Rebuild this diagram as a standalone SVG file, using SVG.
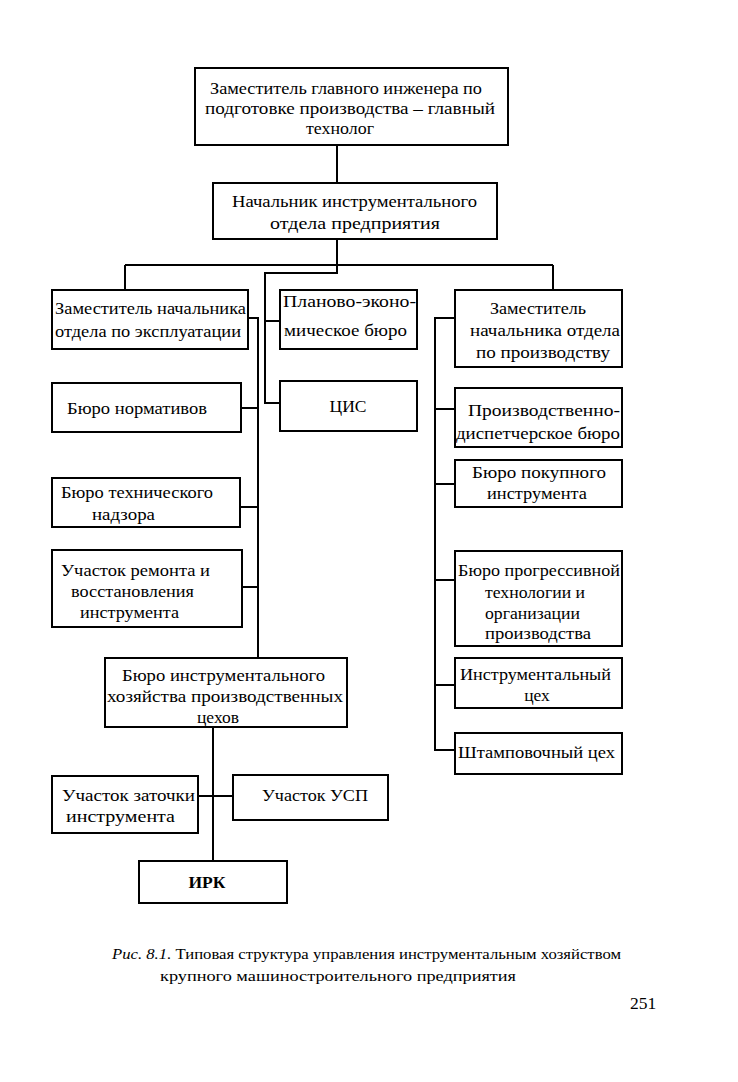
<svg xmlns="http://www.w3.org/2000/svg" width="738" height="1082" viewBox="0 0 738 1082">
<style>
.box{fill:#fff;stroke:#000;stroke-width:2}
.t{font-family:"Liberation Serif",serif;font-size:17.5px;fill:#000}
.m{text-anchor:middle}
.c{fill:none;stroke:#000;stroke-width:2}
.cap{font-family:"Liberation Serif",serif;font-size:14.5px;fill:#000}
</style>
<rect width="738" height="1082" fill="#fff"/>
<g id="connectors">
<path class="c" d="M337 145V183M337 239V265M125 265H553M125 265V290M553 265V290"/>
<path class="c" d="M337 265V273H265V403H280M265 321H280"/>
<path class="c" d="M248 318H258V658M241 408H258M240 507H258M242 587H258"/>
<path class="c" d="M455 318H435V750H455M435 409H455M435 484H455M435 580H455M435 685H455"/>
<path class="c" d="M213 727V861M198 796H233"/>
</g>
<g id="n1"><rect class="box" x="195" y="68" width="313" height="77"/>
<text class="t" x="210" y="94" textLength="272" lengthAdjust="spacingAndGlyphs">Заместитель главного инженера по</text>
<text class="t" x="205" y="114" textLength="290" lengthAdjust="spacingAndGlyphs">подготовке производства  – главный</text>
<text class="t" x="306" y="134" textLength="68" lengthAdjust="spacingAndGlyphs">технолог</text></g>
<g id="n2"><rect class="box" x="213" y="183" width="284" height="56"/>
<text class="t" x="232" y="207" textLength="245" lengthAdjust="spacingAndGlyphs">Начальник инструментального</text>
<text class="t" x="270" y="229" textLength="170" lengthAdjust="spacingAndGlyphs">отдела предприятия</text></g>
<g id="n3"><rect class="box" x="52" y="290" width="196" height="59"/>
<text class="t" x="55" y="314" textLength="191" lengthAdjust="spacingAndGlyphs">Заместитель начальника</text>
<text class="t" x="55" y="337" textLength="186" lengthAdjust="spacingAndGlyphs">отдела по эксплуатации</text></g>
<g id="n4"><rect class="box" x="280" y="290" width="137" height="59"/>
<text class="t" x="283" y="307" textLength="133" lengthAdjust="spacingAndGlyphs">Планово-эконо-</text>
<text class="t" x="284" y="336" textLength="123" lengthAdjust="spacingAndGlyphs">мическое бюро</text></g>
<g id="n5"><rect class="box" x="280" y="381" width="137" height="50"/>
<text class="t m" x="348" y="412">ЦИС</text></g>
<g id="n6"><rect class="box" x="455" y="290" width="167" height="77"/>
<text class="t" x="490" y="314" textLength="96" lengthAdjust="spacingAndGlyphs">Заместитель</text>
<text class="t" x="470" y="336" textLength="150" lengthAdjust="spacingAndGlyphs">начальника отдела</text>
<text class="t" x="476" y="358" textLength="134" lengthAdjust="spacingAndGlyphs">по  производству</text></g>
<g id="n7"><rect class="box" x="52" y="383" width="189" height="49"/>
<text class="t" x="67" y="414" textLength="140" lengthAdjust="spacingAndGlyphs">Бюро нормативов</text></g>
<g id="n8"><rect class="box" x="455" y="388" width="167" height="59"/>
<text class="t" x="468" y="416" textLength="152" lengthAdjust="spacingAndGlyphs">Производственно-</text>
<text class="t" x="456" y="439" textLength="164" lengthAdjust="spacingAndGlyphs">диспетчерское бюро</text></g>
<g id="n9"><rect class="box" x="455" y="460" width="167" height="47"/>
<text class="t" x="472" y="478" textLength="134" lengthAdjust="spacingAndGlyphs">Бюро покупного</text>
<text class="t" x="487" y="499" textLength="100" lengthAdjust="spacingAndGlyphs">инструмента</text></g>
<g id="n10"><rect class="box" x="52" y="478" width="188" height="49"/>
<text class="t" x="61" y="498" textLength="152" lengthAdjust="spacingAndGlyphs">Бюро технического</text>
<text class="t" x="92" y="520" textLength="63" lengthAdjust="spacingAndGlyphs">надзора</text></g>
<g id="n11"><rect class="box" x="52" y="550" width="190" height="77"/>
<text class="t" x="61" y="576" textLength="149" lengthAdjust="spacingAndGlyphs">Участок ремонта и</text>
<text class="t" x="71" y="597" textLength="123" lengthAdjust="spacingAndGlyphs">восстановления</text>
<text class="t" x="80" y="618" textLength="99" lengthAdjust="spacingAndGlyphs">инструмента</text></g>
<g id="n12"><rect class="box" x="455" y="551" width="167" height="95"/>
<text class="t" x="458" y="576" textLength="162" lengthAdjust="spacingAndGlyphs">Бюро прогрессивной</text>
<text class="t" x="485" y="598" textLength="100" lengthAdjust="spacingAndGlyphs">технологии и</text>
<text class="t" x="485" y="619" textLength="95" lengthAdjust="spacingAndGlyphs">организации</text>
<text class="t" x="485" y="639" textLength="106" lengthAdjust="spacingAndGlyphs">производства</text></g>
<g id="n13"><rect class="box" x="455" y="658" width="167" height="50"/>
<text class="t" x="460" y="680" textLength="151" lengthAdjust="spacingAndGlyphs">Инструментальный</text>
<text class="t m" x="537" y="701">цех</text></g>
<g id="n14"><rect class="box" x="455" y="733" width="167" height="41"/>
<text class="t" x="458" y="758" textLength="157" lengthAdjust="spacingAndGlyphs">Штамповочный цех</text></g>
<g id="n15"><rect class="box" x="105" y="658" width="242" height="69"/>
<text class="t" x="122" y="681" textLength="203" lengthAdjust="spacingAndGlyphs">Бюро инструментального</text>
<text class="t" x="107" y="702" textLength="236" lengthAdjust="spacingAndGlyphs">хозяйства производственных</text>
<text class="t m" x="218" y="723">цехов</text></g>
<g id="n16"><rect class="box" x="52" y="776" width="146" height="57"/>
<text class="t" x="62" y="801" textLength="133" lengthAdjust="spacingAndGlyphs">Участок заточки</text>
<text class="t" x="66" y="822" textLength="109" lengthAdjust="spacingAndGlyphs">инструмента</text></g>
<g id="n17"><rect class="box" x="233" y="775" width="155" height="45"/>
<text class="t" x="262" y="801" textLength="106" lengthAdjust="spacingAndGlyphs">Участок УСП</text></g>
<g id="n18"><rect class="box" x="139" y="861" width="148" height="42"/>
<text class="t m" x="207" y="888" font-weight="bold">ИРК</text></g>
<g id="caption">
<text class="cap" x="112" y="959" textLength="509" lengthAdjust="spacingAndGlyphs"><tspan font-style="italic">Рис. 8.1.</tspan> Типовая структура управления инструментальным хозяйством</text>
<text class="cap" x="160" y="981" textLength="356" lengthAdjust="spacingAndGlyphs">крупного машиностроительного предприятия</text>
<text class="t" x="630" y="1009" font-size="18">251</text>
</g>
</svg>
